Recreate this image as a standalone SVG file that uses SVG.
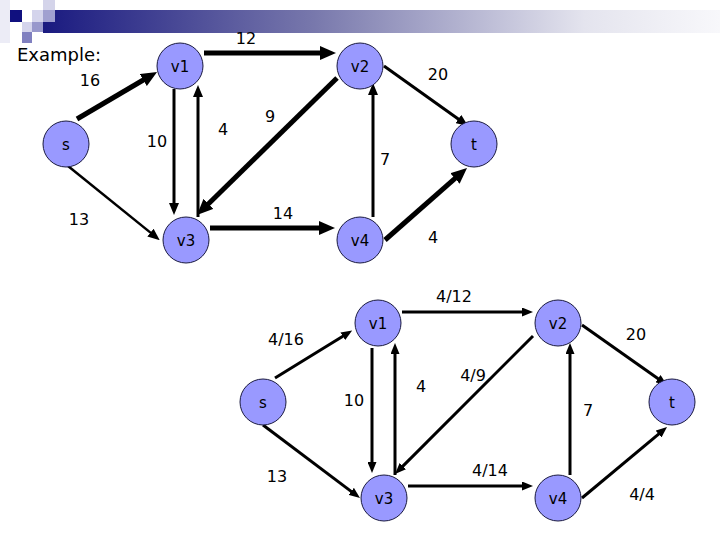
<svg xmlns="http://www.w3.org/2000/svg" width="720" height="540" viewBox="0 0 720 540">
<style>
.node circle{fill:#9999ff;stroke:#1a1a40;stroke-width:1}
.node text,.lbl{font-family:"DejaVu Sans",Verdana,sans-serif;fill:#000;text-anchor:middle}
.node text{font-size:15px}
.lbl{font-size:16px}
.e{fill:none;stroke:#000}
.thick{stroke-width:5;marker-end:url(#big)}
.med{stroke-width:3;marker-end:url(#mid)}
.thin{stroke-width:2.5;marker-end:url(#mid)}
.bot{stroke-width:3;marker-end:url(#sm)}
</style>
<defs>
<linearGradient id="bar" x1="0" y1="0" x2="1" y2="0">
<stop offset="0" stop-color="#1a1a80"/>
<stop offset="0.4" stop-color="#7878ac"/>
<stop offset="0.8" stop-color="#e4e4ee"/>
<stop offset="1" stop-color="#f8f8fb"/>
</linearGradient>
<marker id="big" markerUnits="userSpaceOnUse" markerWidth="16" markerHeight="14" refX="2" refY="7" orient="auto"><path d="M0,0 L16,7 L0,14 z" fill="#000"/></marker>
<marker id="mid" markerUnits="userSpaceOnUse" markerWidth="12" markerHeight="10" refX="2" refY="5" orient="auto"><path d="M0,0 L12,5 L0,10 z" fill="#000"/></marker>
<marker id="sm" markerUnits="userSpaceOnUse" markerWidth="11" markerHeight="9" refX="2" refY="4.5" orient="auto"><path d="M0,0 L11,4.5 L0,9 z" fill="#000"/></marker>
</defs>
<rect width="720" height="540" fill="#fff"/>
<g id="header">
<rect x="43" y="10" width="677" height="23" fill="url(#bar)"/>
<rect x="0" y="0" width="10" height="43" fill="#ececf6"/>
<rect x="10" y="10" width="12" height="12" fill="#10107f"/>
<rect x="32" y="10" width="11" height="12" fill="#d4d4ec"/>
<rect x="43" y="0" width="12" height="10" fill="#d4d4ea"/>
<rect x="43" y="10" width="12" height="12" fill="#a0a0d0"/>
<rect x="22" y="22" width="10" height="10" fill="#d4d4ec"/>
<rect x="32" y="22" width="11" height="10" fill="#9898cc"/>
<rect x="22" y="32" width="10" height="11" fill="#8080c0"/>
</g>
<text class="lbl" x="17" y="61" style="text-anchor:start;font-size:18px">Example:</text>
<g id="connectors-top">
<line class="e thick" x1="77" y1="119" x2="145" y2="79"/>
<line class="e thick" x1="204" y1="53" x2="322" y2="53"/>
<line class="e med" x1="174" y1="89" x2="174" y2="205"/>
<line class="e med" x1="198" y1="217" x2="198" y2="95"/>
<line class="e thick" x1="337" y1="78" x2="207" y2="205.2"/>
<line class="e thin" x1="68" y1="166" x2="152" y2="233.9"/>
<line class="e med" x1="384" y1="66" x2="460" y2="120.2"/>
<line class="e med" x1="373" y1="217" x2="373" y2="93"/>
<line class="e thick" x1="210" y1="228" x2="321" y2="228"/>
<line class="e thick" x1="385" y1="240" x2="456.5" y2="177.2"/>
</g>
<g id="top-s" class="node"><circle cx="66" cy="144" r="23"/><text x="66" y="149.5">s</text></g>
<g id="top-v1" class="node"><circle cx="180" cy="66" r="23"/><text x="180" y="71.5">v1</text></g>
<g id="top-v2" class="node"><circle cx="360" cy="66" r="23"/><text x="360" y="71.5">v2</text></g>
<g id="top-t" class="node"><circle cx="474" cy="144" r="23"/><text x="474" y="149.5">t</text></g>
<g id="top-v3" class="node"><circle cx="186" cy="240" r="23"/><text x="186" y="245.5">v3</text></g>
<g id="top-v4" class="node"><circle cx="360" cy="240" r="23"/><text x="360" y="245.5">v4</text></g>
<g id="labels-top">
<text class="lbl" x="90" y="86">16</text>
<text class="lbl" x="246" y="44">12</text>
<text class="lbl" x="438" y="80">20</text>
<text class="lbl" x="270" y="122">9</text>
<text class="lbl" x="223" y="135">4</text>
<text class="lbl" x="157" y="147">10</text>
<text class="lbl" x="385" y="165">7</text>
<text class="lbl" x="79" y="225">13</text>
<text class="lbl" x="283" y="219">14</text>
<text class="lbl" x="433" y="243">4</text>
</g>
<g id="connectors-bottom">
<line class="e bot" x1="275" y1="378" x2="344.5" y2="335.2"/>
<line class="e bot" x1="402" y1="312" x2="524" y2="312"/>
<line class="e bot" x1="372" y1="348" x2="372" y2="464"/>
<line class="e bot" x1="395" y1="475" x2="395" y2="352"/>
<line class="e bot" x1="533" y1="336" x2="401.4" y2="467.6"/>
<line class="e bot" x1="570" y1="475" x2="570" y2="352"/>
<line class="e bot" x1="582" y1="325" x2="659.6" y2="379.8"/>
<line class="e bot" x1="263" y1="425" x2="352.8" y2="492.6"/>
<line class="e bot" x1="408" y1="486" x2="524" y2="486"/>
<line class="e bot" x1="582" y1="498" x2="660.1" y2="432.8"/>
</g>
<g id="bot-s" class="node"><circle cx="263" cy="402" r="23"/><text x="263" y="407.5">s</text></g>
<g id="bot-v1" class="node"><circle cx="378" cy="323" r="23"/><text x="378" y="328.5">v1</text></g>
<g id="bot-v2" class="node"><circle cx="558" cy="323" r="23"/><text x="558" y="328.5">v2</text></g>
<g id="bot-t" class="node"><circle cx="672" cy="402" r="23"/><text x="672" y="407.5">t</text></g>
<g id="bot-v3" class="node"><circle cx="384" cy="498" r="23"/><text x="384" y="503.5">v3</text></g>
<g id="bot-v4" class="node"><circle cx="558" cy="498" r="23"/><text x="558" y="503.5">v4</text></g>
<g id="labels-bottom">
<text class="lbl" x="454" y="302">4/12</text>
<text class="lbl" x="286" y="345">4/16</text>
<text class="lbl" x="636" y="340">20</text>
<text class="lbl" x="473" y="381">4/9</text>
<text class="lbl" x="421" y="392">4</text>
<text class="lbl" x="354" y="406">10</text>
<text class="lbl" x="588" y="416">7</text>
<text class="lbl" x="277" y="482">13</text>
<text class="lbl" x="490" y="476">4/14</text>
<text class="lbl" x="642" y="500">4/4</text>
</g>
</svg>
